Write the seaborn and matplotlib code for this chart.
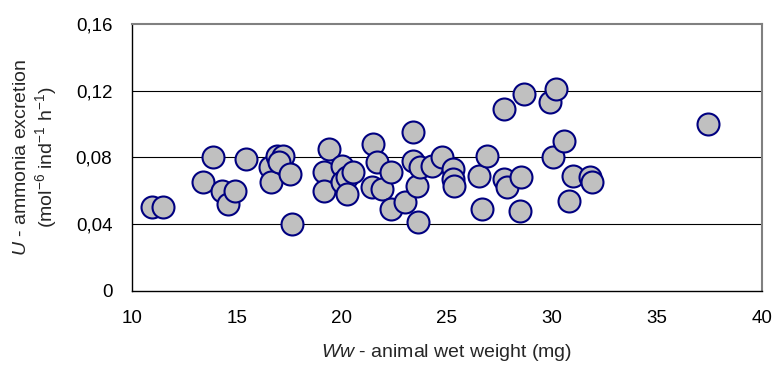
import numpy as np
import pandas as pd
import matplotlib
matplotlib.use('Agg')
import matplotlib.pyplot as plt
import seaborn as sns

# wet weight (mg) vs ammonia excretion
ww = [10.95, 11.5, 13.4, 13.85, 14.3, 14.6, 14.9, 15.45, 16.6, 16.65,
      16.9, 17.2, 17.0, 17.55, 17.65, 19.4, 19.17, 19.17, 20.0, 20.0,
      20.24, 20.24, 20.55, 21.5, 21.67, 21.45, 21.9, 22.35, 22.35, 23.0,
      23.4, 23.4, 23.57, 23.65, 23.73, 24.3, 24.75, 25.3, 25.3, 25.35,
      26.55, 26.7, 26.93, 27.73, 27.73, 27.86, 28.55, 28.47, 28.68, 29.92,
      30.2, 30.08, 30.6, 30.83, 31.03, 31.8, 31.9, 37.45]
u = [0.050, 0.050, 0.065, 0.080, 0.060, 0.052, 0.060, 0.079, 0.074, 0.065,
     0.081, 0.081, 0.077, 0.070, 0.040, 0.085, 0.071, 0.060, 0.075, 0.065,
     0.068, 0.058, 0.071, 0.088, 0.077, 0.062, 0.061, 0.071, 0.049, 0.053,
     0.095, 0.078, 0.063, 0.041, 0.074, 0.075, 0.080, 0.073, 0.067, 0.063,
     0.069, 0.049, 0.081, 0.109, 0.067, 0.062, 0.068, 0.048, 0.118, 0.113,
     0.121, 0.080, 0.090, 0.054, 0.069, 0.068, 0.065, 0.100]

xticks = [10, 15, 20, 25, 30, 35, 40]
yticks = [0, 0.04, 0.08, 0.12, 0.16]
ytick_labels = ['0', '0,04', '0,08', '0,12', '0,16']

df = pd.DataFrame({'ww': ww, 'u': u})

sns.set_style('white')
plt.rcParams['font.family'] = ['Liberation Sans', 'DejaVu Sans']
plt.rcParams['mathtext.fontset'] = 'custom'
plt.rcParams['mathtext.rm'] = 'Liberation Sans'
plt.rcParams['mathtext.it'] = 'Liberation Sans:italic'

fig = plt.figure(figsize=(7.75, 3.71), dpi=100)
ax = fig.add_axes([0.170, 0.2165, 0.813, 0.7188])

for yv in yticks[1:-1]:
    ax.axhline(yv, color='black', lw=0.8, zorder=1)

sns.scatterplot(data=df, x='ww', y='u', ax=ax, s=250, color='#C0C0C0',
                edgecolor='#000080', linewidth=1.5, zorder=3, legend=False)

ax.set_xlim(10, 40)
ax.set_ylim(0, 0.16)
ax.set_xticks(xticks)
ax.set_xticklabels([str(t) for t in xticks])
ax.set_yticks(yticks)
ax.set_yticklabels(ytick_labels)
ax.tick_params(axis='both', direction='out', width=0.8,
               colors='black', labelsize=13.5)
ax.tick_params(axis='x', length=5, pad=9)
ax.tick_params(axis='y', length=6, pad=8)

for side in ['left', 'bottom']:
    ax.spines[side].set_color('black')
    ax.spines[side].set_linewidth(1.0)
for side in ['top', 'right']:
    ax.spines[side].set_color('#808080')
    ax.spines[side].set_linewidth(1.5)

ax.set_xlabel(r'$\mathit{Ww}$ - animal wet weight (mg)', fontsize=14, labelpad=11)
ax.set_ylabel('$\\mathit{U}$ - ammonia excretion\n'
              '(mol$^{-6}$ ind$^{-1}$ h$^{-1}$)', fontsize=14, labelpad=12,
              linespacing=1.15)

fig.savefig('out.png', dpi=100)
